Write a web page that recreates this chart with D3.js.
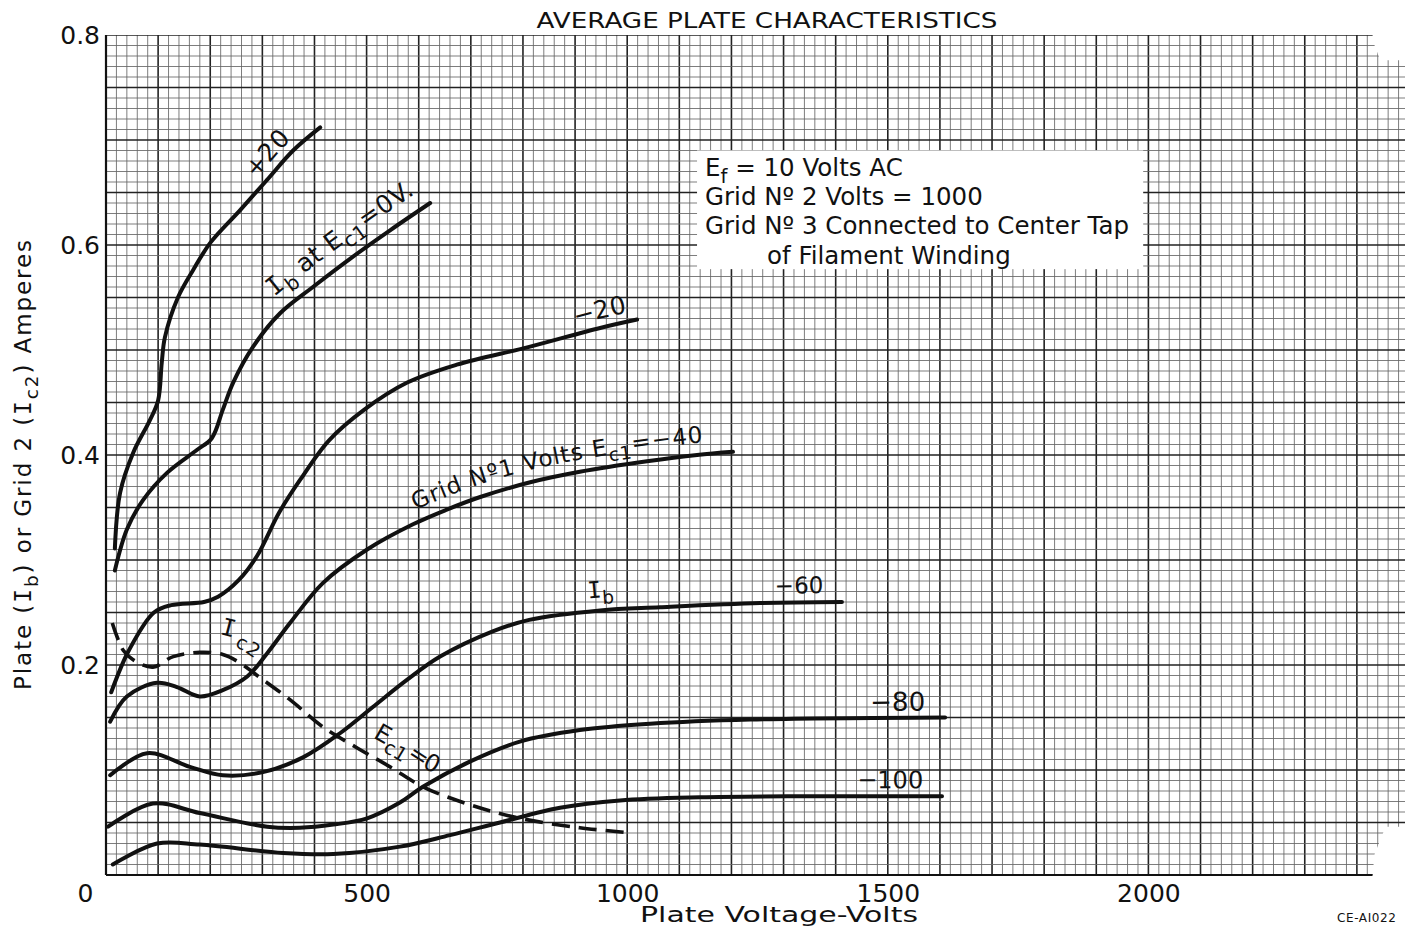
<!DOCTYPE html>
<html>
<head>
<meta charset="utf-8">
<script src="https://cdn.jsdelivr.net/npm/d3@7"></script>
<style>
body { margin: 0; background: #fff; }
text { font-family: "DejaVu Sans", sans-serif; fill: #111; }
</style>
</head>
<body>
<div id="chart"></div>
<script>
// plate voltage (V) , current (A)
var curvePlus20 = [[17,0.311],[27,0.364],[52,0.402],[84,0.433],[100,0.452],[107,0.488],[113,0.512],
  [138,0.550],[167,0.576],[200,0.602],[257,0.633],[309,0.662],[359,0.690],[411,0.712]];
var curveZero = [[17,0.290],[40,0.329],[71,0.357],[117,0.383],[175,0.405],[203,0.416],[224,0.443],
  [244,0.469],[282,0.503],[334,0.535],[397,0.560],[474,0.589],[545,0.614],[622,0.640]];
var curveMinus20 = [[10,0.174],[44,0.214],[92,0.250],[125,0.257],[188,0.260],[215,0.265],[255,0.281],
  [290,0.304],[332,0.345],[372,0.376],[428,0.414],[495,0.443],[578,0.469],[673,0.486],[812,0.503],
  [948,0.521],[1019,0.529]];
var curveMinus40 = [[8,0.146],[40,0.170],[98,0.183],[136,0.179],[180,0.170],[224,0.176],[271,0.189],
  [309,0.211],[353,0.240],[416,0.278],[501,0.310],[589,0.334],[654,0.348],[718,0.360],[814,0.374],
  [909,0.384],[1038,0.394],[1134,0.400],[1203,0.403]];
var curveMinus60 = [[8,0.095],[79,0.116],[161,0.103],[224,0.095],[301,0.098],[378,0.112],[449,0.135],
  [512,0.160],[578,0.186],[641,0.208],[742,0.232],[812,0.243],[948,0.252],[1063,0.255],[1255,0.259],
  [1412,0.260]];
var curveMinus80 = [[4,0.046],[90,0.068],[180,0.059],[309,0.046],[372,0.045],[436,0.048],[501,0.054],
  [564,0.069],[608,0.084],[698,0.108],[794,0.127],[909,0.138],[1044,0.144],[1236,0.148],[1610,0.150]];
var curveMinus100 = [[13,0.010],[98,0.030],[180,0.029],[340,0.021],[436,0.020],[564,0.027],[660,0.038],
  [756,0.050],[871,0.064],[986,0.071],[1140,0.074],[1332,0.075],[1604,0.075]];
var curveIc2 = [[12,0.240],[33,0.214],[52,0.205],[90,0.198],[129,0.208],[180,0.212],[224,0.210],
  [257,0.202],[290,0.190],[353,0.167],[416,0.141],[482,0.121],[545,0.103],[608,0.084],[698,0.067],
  [794,0.054],[909,0.045],[1009,0.040]];

var xTicks = [0, 500, 1000, 1500, 2000];
var yTicks = [0.2, 0.4, 0.6, 0.8];
var noteLines = ["Grid  Nº 2  Volts = 1000", "Grid  Nº 3  Connected  to  Center  Tap", "of  Filament  Winding"];

var W = 1405, H = 930;
var X_MAX = 2430, X_TORN = 2500;

var x = d3.scaleLinear().domain([0, X_MAX]).range([106, 106 + X_MAX * 0.5212]);
var y = d3.scaleLinear().domain([0, 0.8]).range([875, 35]);

var svg = d3.select("#chart").append("svg")
  .attr("xmlns:xlink", "http://www.w3.org/1999/xlink")
  .attr("width", W).attr("height", H);

//////////////////////////////////
// rich text: parts are [text, kind], kind "sub" or "I" (serif capital I)
function richInto(parent, parts, size, baseDy) {
  var shifted = false;
  parts.forEach(function(p, k) {
    var ts = parent.append("tspan").text(p[0]);
    var dy = k == 0 ? (baseDy || 0) : 0;
    if (p[1] == "sub") {
      ts.attr("font-size", size * 0.8);
      dy += size * 0.3;
      shifted = true;
    } else {
      if (shifted) { dy -= size * 0.3; shifted = false; }
      if (p[1] == "I") ts.attr("font-family", "DejaVu Sans Mono");
    }
    if (dy) ts.attr("dy", dy);
  });
}
function rich(sel, parts, size) {
  var t = sel.append("text").attr("font-size", size);
  richInto(t, parts, size, 0);
  return t;
}

//////////////////////////////////
// graph paper, with the torn right edge
var clip = [[0,0],[X_MAX,0],[X_MAX+4,0.02],[2455,0.046],[X_TORN,0.046],[X_TORN,0.776],
  [2445,0.776],[X_MAX+4,0.79],[X_MAX,0.8],[0,0.8]];
svg.append("clipPath").attr("id", "paper").append("polygon")
  .attr("points", clip.map(function(p) { return x(p[0]) + "," + y(p[1]); }).join(" "));

var grid = svg.append("g").attr("clip-path", "url(#paper)");
var vx = d3.range(0, X_TORN + 1, 20);
var hy = d3.range(0, 81).map(function(k) { return k / 100; });

grid.selectAll("line.v").data(vx).enter().append("line")
  .attr("x1", function(d) { return x(d); }).attr("x2", function(d) { return x(d); })
  .attr("y1", y(0)).attr("y2", y(0.8))
  .attr("stroke", function(d) { return d % 100 == 0 ? "#222" : "#666"; })
  .attr("stroke-width", function(d) { return d % 100 == 0 ? 1.6 : 0.85; });

grid.selectAll("line.h").data(hy).enter().append("line")
  .attr("x1", x(0)).attr("x2", x(X_TORN))
  .attr("y1", function(d) { return y(d); }).attr("y2", function(d) { return y(d); })
  .attr("stroke", function(d, i) { return i % 5 == 0 ? "#222" : "#666"; })
  .attr("stroke-width", function(d, i) { return i % 5 == 0 ? 1.6 : 0.85; });

// heavier frame on left and bottom
svg.append("line").attr("x1", x(0)).attr("x2", x(0)).attr("y1", y(0)).attr("y2", y(0.8))
  .attr("stroke", "#111").attr("stroke-width", 2.2);
svg.append("line").attr("x1", x(0)).attr("x2", x(X_MAX)).attr("y1", y(0)).attr("y2", y(0))
  .attr("stroke", "#111").attr("stroke-width", 2.2);

//////////////////////////////////
// axes (labels only, the paper is the grid)
var xAxis = svg.append("g").attr("transform", "translate(0," + y(0) + ")")
  .call(d3.axisBottom(x).tickValues(xTicks).tickSize(0).tickPadding(9).tickFormat(d3.format("d")));
var yAxis = svg.append("g").attr("transform", "translate(" + x(0) + ",0)")
  .call(d3.axisLeft(y).tickValues(yTicks).tickSize(0).tickPadding(6).tickFormat(d3.format(".1f")));
[xAxis, yAxis].forEach(function(a) {
  a.select(".domain").remove();
  a.selectAll("text").attr("font-size", 25).attr("font-family", "DejaVu Sans").attr("fill", "#111");
});
xAxis.selectAll(".tick").filter(function(d) { return d == 0; }).select("text").attr("dx", -21);

//////////////////////////////////
// curves
var line = d3.line()
  .x(function(d) { return x(d[0]); })
  .y(function(d) { return y(d[1]); })
  .curve(d3.curveCatmullRom.alpha(0.5));

var solid = [
  {id: "c-p20", data: curvePlus20}, {id: "c-0", data: curveZero}, {id: "c-m20", data: curveMinus20},
  {id: "c-m40", data: curveMinus40}, {id: "c-m60", data: curveMinus60}, {id: "c-m80", data: curveMinus80},
  {id: "c-m100", data: curveMinus100}
];
svg.selectAll("path.curve").data(solid).enter().append("path")
  .attr("class", "curve")
  .attr("id", function(c) { return c.id; })
  .attr("d", function(c) { return line(c.data); })
  .attr("fill", "none").attr("stroke", "#111").attr("stroke-width", 4)
  .attr("stroke-linecap", "round").attr("stroke-linejoin", "round");

svg.append("path").datum(curveIc2)
  .attr("id", "c-ic2")
  .attr("d", line)
  .attr("fill", "none").attr("stroke", "#111").attr("stroke-width", 3.6)
  .attr("stroke-dasharray", "18,9");

//////////////////////////////////
// curve labels ride along their curve, starting at volts v, lifted by dy px
function offsetAt(node, px) {
  var lo = 0, hi = node.getTotalLength();
  for (var k = 0; k < 30; k++) {
    var mid = (lo + hi) / 2;
    if (node.getPointAtLength(mid).x < px) lo = mid; else hi = mid;
  }
  return lo;
}
var labels = [
  {path: "c-p20", parts: [["+20"]], v: 300, dy: -9, size: 25},
  {path: "c-0", parts: [["I","I"],["b","sub"],[" at E"],["c1","sub"],["=0V."]], v: 342, dy: -16, size: 25, ls: 0.5},
  {path: "c-m20", parts: [["−20"]], v: 905, dy: -9, size: 25},
  {path: "c-m40", parts: [["Grid  Nº1  Volts  E"],["c1","sub"],["=−40"]], v: 602, dy: -12, size: 23, ls: 1},
  {path: "c-m60", parts: [["I","I"],["b","sub"]], v: 927, dy: -13, size: 23},
  {path: "c-m60", parts: [["−60"]], v: 1283, dy: -9, size: 23},
  {path: "c-m80", parts: [["−80"]], v: 1466, dy: -7, size: 26},
  {path: "c-m100", parts: [["−100"]], v: 1441, dy: -8, size: 24},
  {path: "c-ic2", parts: [["I","I"],["c2","sub"]], v: 208, dy: -19, size: 24},
  {path: "c-ic2", parts: [["E"],["c1","sub"],["=0"]], v: 495, dy: -17, size: 24}
];
labels.forEach(function(l) {
  var node = document.getElementById(l.path);
  var tp = svg.append("text").attr("font-size", l.size).attr("letter-spacing", l.ls || 0)
    .append("textPath")
    .attr("href", "#" + l.path).attr("xlink:href", "#" + l.path)
    .attr("startOffset", offsetAt(node, x(l.v)));
  richInto(tp, l.parts, l.size, l.dy);
});

//////////////////////////////////
// note box
var box = svg.append("g");
box.append("rect")
  .attr("x", x(1134)).attr("y", y(0.69))
  .attr("width", x(1990) - x(1134)).attr("height", y(0.577) - y(0.69))
  .attr("fill", "#fff");
rich(box, [["E"],["f","sub"],[" = 10  Volts  AC"]], 24.5)
  .attr("x", x(1134) + 8).attr("y", y(0.69) + 25.5);
noteLines.forEach(function(t, k) {
  box.append("text").attr("font-size", 24.5)
    .attr("x", x(1134) + (k == 2 ? 70 : 8))
    .attr("y", y(0.69) + 25.5 + (k + 1) * 29.2)
    .text(t);
});

//////////////////////////////////
// titles
svg.append("text").attr("x", 767).attr("y", 28).attr("text-anchor", "middle")
  .attr("font-size", 21).attr("textLength", 461).attr("lengthAdjust", "spacingAndGlyphs")
  .text("AVERAGE  PLATE  CHARACTERISTICS");
svg.append("text").attr("x", 779).attr("y", 922).attr("text-anchor", "middle")
  .attr("font-size", 22).attr("textLength", 278).attr("lengthAdjust", "spacingAndGlyphs")
  .text("Plate  Voltage-Volts");
var yt = svg.append("g").attr("transform", "translate(31,465) rotate(-90)");
rich(yt, [["Plate  ("],["I","I"],["b","sub"],[")  or  Grid 2 ("],["I","I"],["c2","sub"],[")   Amperes"]], 23)
  .attr("text-anchor", "middle").attr("textLength", 450).attr("lengthAdjust", "spacing");
svg.append("text").attr("x", 1337).attr("y", 922).attr("font-size", 12).attr("letter-spacing", 0.6)
  .text("CE-AI022");
</script>
</body>
</html>
